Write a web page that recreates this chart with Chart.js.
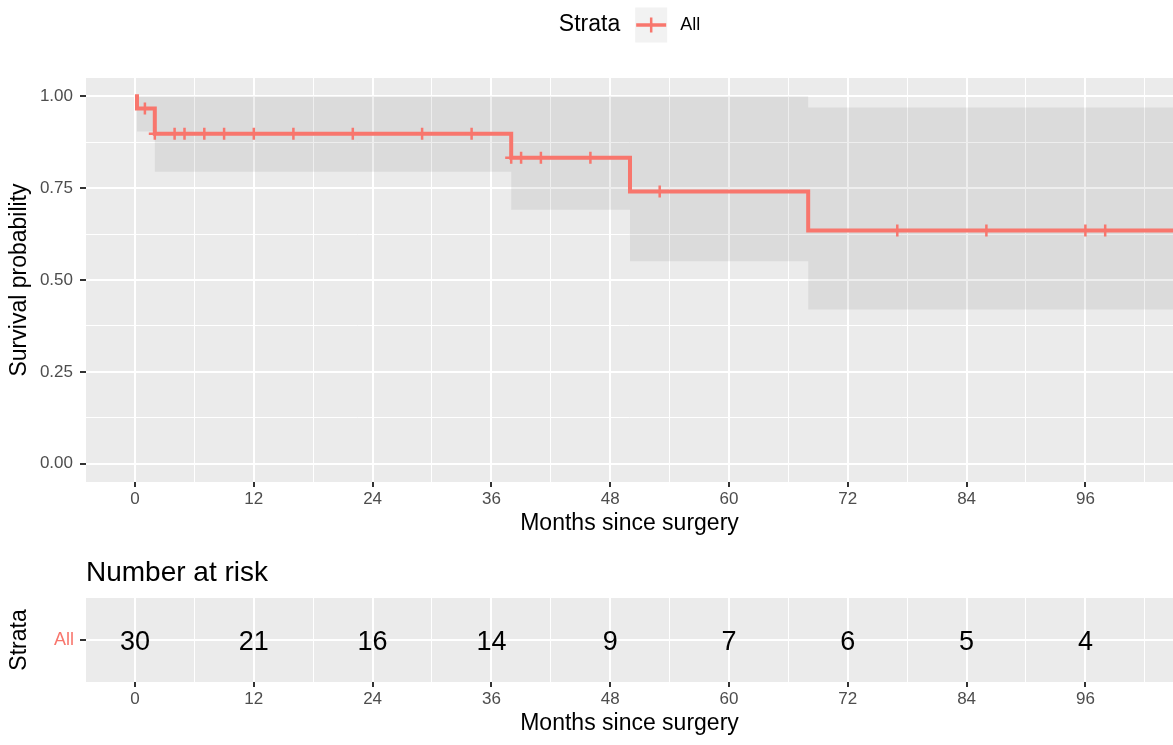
<!DOCTYPE html>
<html>
<head>
<meta charset="utf-8">
<title>Kaplan-Meier survival</title>
<script src="https://cdn.jsdelivr.net/npm/chart.js@4/dist/chart.umd.min.js"></script>
<style>
  html, body { margin: 0; padding: 0; background: #ffffff; }
  canvas { display: block; }
</style>
</head>
<body>
<canvas id="km" width="1173" height="545"></canvas>
<canvas id="risk" width="1173" height="200"></canvas>
<script>
// Axis breaks
const monthTicks = [0, 12, 24, 36, 48, 60, 72, 84, 96];
const monthMinor = [6, 18, 30, 42, 54, 66, 78, 90, 102];
const probTicks = [0, 0.25, 0.5, 0.75, 1];
const probMinor = [0.125, 0.375, 0.625, 0.875];

// Strata
const strata = ['All'];

// Kaplan-Meier estimate: step values after each event time (last entry = end of follow-up)
const eventTime = [0, 0.2, 2, 38, 50, 68, 105];
const survival  = [1.000, 0.967, 0.898, 0.833, 0.741, 0.635, 0.635];
const ciLower   = [1.000, 0.904, 0.795, 0.691, 0.551, 0.420, 0.420];
const ciUpper   = [1.000, 1.000, 1.000, 1.000, 1.000, 0.970, 0.970];

// Censored observations (months)
const censorTime = [1, 2, 4, 5, 7, 9, 12, 16, 22, 29, 34, 38, 39, 41, 46, 53, 77, 86, 96, 98];

// Number at risk at each major break
const atRisk = [30, 21, 16, 14, 9, 7, 6, 5, 4];

const RED = '#F8766D';
const FONT = "'Liberation Sans', Arial, Helvetica, sans-serif";
const X_MIN = -4.95, X_MAX = 104.85;

function survAt(t) {
  let s = survival[0];
  for (let i = 0; i < eventTime.length; i++) if (eventTime[i] <= t) s = survival[i];
  return s;
}

const panelBg = {
  id: 'panelBg',
  beforeDraw(chart) {
    const a = chart.chartArea, c = chart.ctx;
    c.save();
    c.fillStyle = '#EBEBEB';
    c.fillRect(a.left, a.top, a.right - a.left, a.bottom - a.top);
    c.restore();
  }
};

const strataLegend = {
  id: 'strataLegend',
  afterDraw(chart) {
    const c = chart.ctx, a = chart.chartArea;
    const ds = chart.data.datasets[1];
    c.save();
    c.textBaseline = 'middle';
    c.font = '23px ' + FONT;
    const title = 'Strata';
    const tw = c.measureText(title).width;
    c.font = '18px ' + FONT;
    const lw = c.measureText(ds.label).width;
    const keyW = 32, keyH = 35, gap1 = 15, gap2 = 13;
    const total = tw + gap1 + keyW + gap2 + lw;
    let x = (a.left + a.right) / 2 - total / 2;
    const cy = 25;
    c.fillStyle = '#000000';
    c.font = '23px ' + FONT;
    c.textAlign = 'left';
    c.fillText(title, x, cy);
    x += tw + gap1;
    c.fillStyle = '#F2F2F2';
    c.fillRect(x, cy - keyH / 2, keyW, keyH);
    c.strokeStyle = ds.borderColor;
    c.lineWidth = 3.5;
    c.beginPath();
    c.moveTo(x + 1, cy); c.lineTo(x + keyW - 1, cy);
    c.stroke();
    c.lineWidth = 2.5;
    c.beginPath();
    c.moveTo(x + keyW / 2, cy - 7.5); c.lineTo(x + keyW / 2, cy + 7.5);
    c.stroke();
    x += keyW + gap2;
    c.fillStyle = '#000000';
    c.font = '18px ' + FONT;
    c.fillText(ds.label, x, cy);
    c.restore();
  }
};

function monthAxis(showTitle) {
  return {
    type: 'linear',
    min: X_MIN,
    max: X_MAX,
    afterBuildTicks(scale) {
      scale.ticks = monthTicks.concat(monthMinor).sort((p, q) => p - q).map(v => ({ value: v }));
    },
    afterFit(scale) { scale.height = 63; },
    ticks: {
      autoSkip: false,
      maxRotation: 0,
      padding: 2,
      color: '#4D4D4D',
      font: { family: FONT, size: 17 },
      callback: v => monthTicks.includes(v) ? String(v) : ''
    },
    grid: {
      color: '#FFFFFF',
      lineWidth: ctx => monthTicks.includes(ctx.tick.value) ? 2 : 1,
      tickLength: 5,
      tickWidth: 2,
      tickColor: ctx => monthTicks.includes(ctx.tick.value) ? '#333333' : 'rgba(0,0,0,0)'
    },
    border: { display: false },
    title: {
      display: showTitle,
      text: 'Months since surgery',
      color: '#000000',
      font: { family: FONT, size: 23 },
      padding: { top: 0, bottom: 8 }
    }
  };
}

Chart.defaults.font.family = FONT;

// Survival curve
new Chart(document.getElementById('km'), {
  type: 'line',
  data: {
    datasets: [
      {
        label: 'All',
        data: censorTime.map(t => ({ x: t, y: survAt(t) })),
        showLine: false,
        pointStyle: 'cross',
        pointRadius: 6,
        pointBorderWidth: 2.5,
        borderColor: RED,
        backgroundColor: RED,
        order: 0
      },
      {
        label: 'All',
        data: eventTime.map((t, i) => ({ x: t, y: survival[i] })),
        stepped: true,
        borderColor: RED,
        borderWidth: 4,
        pointRadius: 0,
        fill: false,
        order: 1
      },
      {
        label: 'lower',
        data: eventTime.map((t, i) => ({ x: t, y: ciLower[i] })),
        stepped: true,
        borderWidth: 0,
        borderColor: 'rgba(0,0,0,0)',
        pointRadius: 0,
        fill: false,
        order: 3
      },
      {
        label: 'upper',
        data: eventTime.map((t, i) => ({ x: t, y: ciUpper[i] })),
        stepped: true,
        borderWidth: 0,
        borderColor: 'rgba(0,0,0,0)',
        backgroundColor: 'rgba(0,0,0,0.065)',
        pointRadius: 0,
        fill: '-1',
        order: 2
      }
    ]
  },
  options: {
    responsive: false,
    animation: false,
    devicePixelRatio: 1,
    layout: { autoPadding: false, padding: { top: 78, left: 0, right: 0, bottom: 0 } },
    plugins: { legend: { display: false }, tooltip: { enabled: false }, title: { display: false } },
    scales: {
      x: monthAxis(true),
      y: {
        type: 'linear',
        min: -0.05,
        max: 1.05,
        afterBuildTicks(scale) {
          scale.ticks = probTicks.concat(probMinor).sort((p, q) => p - q).map(v => ({ value: v }));
        },
        afterFit(scale) { scale.width = 86; },
        ticks: {
          autoSkip: false,
          padding: 7,
          color: '#4D4D4D',
          font: { family: FONT, size: 17 },
          callback: v => probTicks.includes(v) ? v.toFixed(2) : ''
        },
        grid: {
          color: '#FFFFFF',
          lineWidth: ctx => probTicks.includes(ctx.tick.value) ? 2 : 1,
          tickLength: 6,
          tickWidth: 2,
          tickColor: ctx => probTicks.includes(ctx.tick.value) ? '#333333' : 'rgba(0,0,0,0)'
        },
        border: { display: false },
        title: {
          display: true,
          text: 'Survival probability',
          color: '#000000',
          font: { family: FONT, size: 23 },
          padding: { top: 6, bottom: 0 }
        }
      }
    }
  },
  plugins: [panelBg, strataLegend]
});

// Number at risk table
const riskLabels = {
  id: 'riskLabels',
  afterDatasetsDraw(chart) {
    const c = chart.ctx;
    const meta = chart.getDatasetMeta(0);
    c.save();
    c.fillStyle = '#000000';
    c.font = '27px ' + FONT;
    c.textAlign = 'center';
    c.textBaseline = 'middle';
    meta.data.forEach((pt, i) => c.fillText(String(atRisk[i]), pt.x, pt.y + 3));
    c.font = '28px ' + FONT;
    c.textAlign = 'left';
    c.fillText('Number at risk', chart.chartArea.left, 28);
    c.restore();
  }
};

new Chart(document.getElementById('risk'), {
  type: 'scatter',
  data: {
    datasets: [{
      label: 'All',
      data: monthTicks.map(m => ({ x: m, y: strata[0] })),
      pointRadius: 0,
      showLine: false
    }]
  },
  options: {
    responsive: false,
    animation: false,
    devicePixelRatio: 1,
    layout: { autoPadding: false, padding: { top: 53, left: 0, right: 0, bottom: 0 } },
    plugins: { legend: { display: false }, tooltip: { enabled: false } },
    scales: {
      x: monthAxis(true),
      y: {
        type: 'category',
        labels: strata,
        offset: true,
        afterFit(scale) { scale.width = 86; },
        ticks: {
          padding: 6,
          color: RED,
          font: { family: FONT, size: 18 }
        },
        grid: {
          offset: false,
          color: '#FFFFFF',
          lineWidth: 2,
          tickLength: 6,
          tickWidth: 2,
          tickColor: '#333333'
        },
        border: { display: false },
        title: {
          display: true,
          text: 'Strata',
          color: '#000000',
          font: { family: FONT, size: 23 },
          padding: { top: 6, bottom: 0 }
        }
      }
    }
  },
  plugins: [panelBg, riskLabels]
});
</script>
</body>
</html>
